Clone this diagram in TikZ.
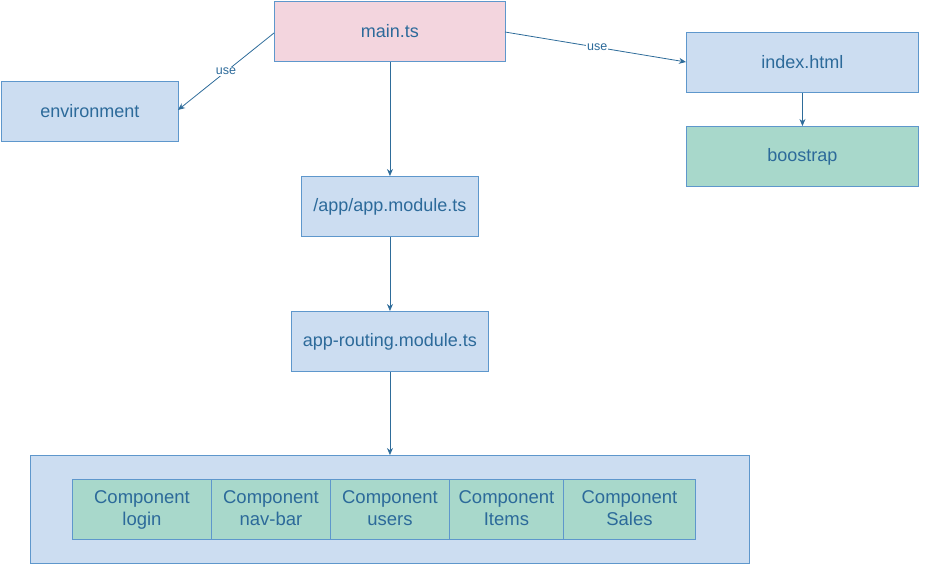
\documentclass[tikz,border=0pt]{standalone}
\usepackage{fontspec}
\setmainfont{Liberation Sans}
\usetikzlibrary{arrows.meta}
\definecolor{pinkfill}{HTML}{F3D5DE}
\definecolor{bluefill}{HTML}{CCDDF1}
\definecolor{greenfill}{HTML}{A8D8CB}
\definecolor{edgeblue}{HTML}{5E97CC}
\definecolor{txtblue}{HTML}{2C6A9A}
\definecolor{arrowblue}{HTML}{2E6C9A}
\newcommand{\twolines}[2]{\vphantom{Clg}#1\\\vphantom{Clg}#2}
\tikzset{
  box/.style={draw=edgeblue, line width=0.9pt, text=txtblue, font=\fontsize{18}{21}\selectfont, inner sep=0pt, anchor=north west},
  comp/.style={draw=edgeblue, line width=0.9pt, fill=greenfill, text=txtblue, font=\fontsize{18.5}{22}\selectfont, align=center, inner sep=0pt, anchor=north west},
  conn/.style={draw=arrowblue, line width=0.8pt, -{Stealth[length=7pt,width=6pt]}},
  lbl/.style={fill=white, text=txtblue, font=\fontsize{12.5}{14}\selectfont, inner sep=1pt},
}
\begin{document}
\begin{tikzpicture}[x=1pt,y=-1pt]
\useasboundingbox (0,0) rectangle (933,573);
\node[box, fill=pinkfill, minimum width=231pt, minimum height=60pt] (main) at (274,1) {main.ts};
\node[box, fill=bluefill, minimum width=177pt, minimum height=60pt] (env) at (1,81) {environment};
\node[box, fill=bluefill, minimum width=232pt, minimum height=60pt] (index) at (686,32) {index.html};
\node[box, fill=greenfill, minimum width=232pt, minimum height=60pt] (boot) at (686,126) {boostrap};
\node[box, fill=bluefill, minimum width=177pt, minimum height=60pt] (appmod) at (301,176) {/app/app.module.ts};
\node[box, fill=bluefill, minimum width=197pt, minimum height=60pt] (routing) at (291,311) {app-routing.module.ts};
\node[box, fill=bluefill, minimum width=719pt, minimum height=108pt] (cont) at (30,455) {};
\node[comp, minimum width=139pt, minimum height=60pt] (c1) at (72,479) {\twolines{Component}{login}};
\node[comp, minimum width=119pt, minimum height=60pt] (c2) at (211,479) {\twolines{Component}{nav-bar}};
\node[comp, minimum width=119pt, minimum height=60pt] (c3) at (330,479) {\twolines{Component}{users}};
\node[comp, minimum width=114pt, minimum height=60pt] (c4) at (449,479) {\twolines{Component}{Items}};
\node[comp, minimum width=132pt, minimum height=60pt] (c5) at (563,479) {\twolines{Component}{Sales}};
\coordinate (mainL) at (274,33);
\coordinate (envR) at (178,110);
\coordinate (mainR) at (505,32);
\coordinate (indexL) at (686,62);
\draw[conn] (mainL) -- node[lbl, pos=0.5] {use} (envR);
\draw[conn] (mainR) -- node[lbl, pos=0.51] {use} (indexL);
\draw[conn] (main.south -| appmod.north) -- (appmod.north);
\draw[conn] (appmod.south) -- (appmod.south |- routing.north);
\draw[conn] (routing.south) -- (routing.south |- cont.north);
\draw[conn] (index.south) -- (index.south |- boot.north);
\end{tikzpicture}
\end{document}
